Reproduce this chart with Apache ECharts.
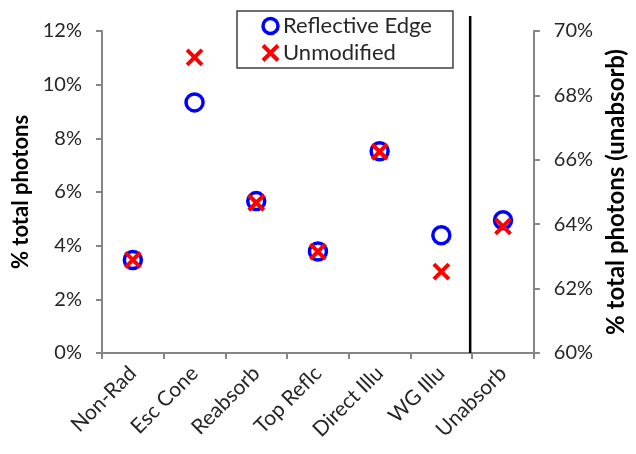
<!DOCTYPE html>
<html>
<head>
<meta charset="utf-8">
<script src="https://cdn.jsdelivr.net/npm/echarts@6/dist/echarts.min.js"></script>
<style>
  html, body { margin: 0; padding: 0; background: #fff; }
  #chart { width: 636px; height: 454px; }
</style>
</head>
<body>
<div id="chart"></div>
<script>
// Photon fate categories (last one is read on the right-hand axis)
const categories = ['Non-Rad', 'Esc Cone', 'Reabsorb', 'Top Reflc', 'Direct Illu', 'WG Illu', 'Unabsorb'];

// % of total photons, left axis
const reflectiveEdge = [3.47, 9.34, 5.66, 3.78, 7.52, 4.39];
const unmodified     = [3.47, 11.02, 5.6, 3.78, 7.5, 3.03];

// % of total photons that stay unabsorbed, right axis
const reflectiveEdgeUnabsorb = 64.12;
const unmodifiedUnabsorb     = 63.93;

// Axis ranges
const leftMin = 0, leftMax = 12, leftStep = 2;
const rightMin = 60, rightMax = 70, rightStep = 2;

const FONT = 'Lato';
const TEXT = '#262626';
const BLUE = '#0000ff';
const RED = '#ff0000';
const CROSS = 'path://M0,0L10,10M10,0L0,10';

function leftSeriesData(values) {
  return categories.map((c, i) => (i < values.length ? values[i] : null));
}
function rightSeriesData(value) {
  return categories.map((c, i) => (i === categories.length - 1 ? value : null));
}

const circleStyle = { color: '#fff', borderColor: BLUE, borderWidth: 3.5, opacity: 1 };
const crossStyle = { color: 'rgba(0,0,0,0)', borderColor: RED, borderWidth: 4, opacity: 1 };

const chart = echarts.init(document.getElementById('chart'), null, { renderer: 'canvas' });

const axisLine = { show: true, lineStyle: { color: '#868686', width: 2 } };
const axisTick = { show: true, length: 6, lineStyle: { color: '#868686', width: 2 } };

chart.setOption({
  animation: false,
  textStyle: { fontFamily: FONT },
  grid: { left: 102, right: 97, top: 31, bottom: 101 },
  legend: {
    orient: 'vertical',
    left: 237, top: 11,
    padding: [4, 21, 4, 24],
    itemGap: 5,
    itemWidth: 15, itemHeight: 15,
    borderColor: '#404040', borderWidth: 1.5,
    backgroundColor: '#fff',
    textStyle: { fontFamily: FONT, fontSize: 22, color: TEXT },
    data: [
      { name: 'Reflective Edge', icon: 'circle', itemStyle: { color: '#fff', borderColor: BLUE, borderWidth: 3.5 } },
      { name: 'Unmodified', icon: CROSS, itemStyle: { color: 'rgba(0,0,0,0)', borderColor: RED, borderWidth: 4 } }
    ]
  },
  xAxis: {
    type: 'category',
    data: categories,
    boundaryGap: true,
    axisLine: axisLine,
    axisTick: axisTick,
    axisLabel: { rotate: 45, fontFamily: FONT, fontSize: 21, color: TEXT, margin: 17, interval: 0 },
    splitLine: { show: false }
  },
  yAxis: [
    {
      type: 'value', min: leftMin, max: leftMax, interval: leftStep,
      name: '% total photons', nameLocation: 'middle', nameGap: 68, nameRotate: 90,
      nameTextStyle: { fontFamily: FONT, fontSize: 22, fontWeight: 'bold', color: '#000' },
      axisLine: axisLine, axisTick: axisTick, splitLine: { show: false },
      axisLabel: { formatter: v => v + '%', fontFamily: FONT, fontSize: 20, color: TEXT, margin: 20 }
    },
    {
      type: 'value', min: rightMin, max: rightMax, interval: rightStep, position: 'right',
      name: '% total photons (unabsorb)', nameLocation: 'middle', nameGap: 69, nameRotate: 90,
      nameTextStyle: { fontFamily: FONT, fontSize: 24, fontWeight: 'bold', color: '#000' },
      axisLine: axisLine, axisTick: axisTick, splitLine: { show: false },
      axisLabel: { formatter: v => v + '%', fontFamily: FONT, fontSize: 20, color: TEXT, margin: 20 }
    }
  ],
  series: [
    {
      name: 'Reflective Edge', type: 'scatter', yAxisIndex: 0,
      data: leftSeriesData(reflectiveEdge),
      symbol: 'circle', symbolSize: 17, itemStyle: circleStyle, z: 2
    },
    {
      name: 'Reflective Edge', type: 'scatter', yAxisIndex: 1,
      data: rightSeriesData(reflectiveEdgeUnabsorb),
      symbol: 'circle', symbolSize: 17, itemStyle: circleStyle, z: 2
    },
    {
      name: 'Unmodified', type: 'scatter', yAxisIndex: 0,
      data: leftSeriesData(unmodified),
      symbol: CROSS, symbolSize: 15, itemStyle: crossStyle, z: 3
    },
    {
      name: 'Unmodified', type: 'scatter', yAxisIndex: 1,
      data: rightSeriesData(unmodifiedUnabsorb),
      symbol: CROSS, symbolSize: 15, itemStyle: crossStyle, z: 3
    }
  ]
});

// Divider between the left-axis categories and the right-axis category,
// placed just left of the category boundary taken from the x axis itself.
function drawDivider() {
  const n = categories.length;
  const xA = chart.convertToPixel({ xAxisIndex: 0 }, categories[n - 2]);
  const xB = chart.convertToPixel({ xAxisIndex: 0 }, categories[n - 1]);
  const x = (xA + xB) / 2 - 2;
  const yBottom = chart.convertToPixel({ yAxisIndex: 0 }, leftMin);
  const yTop = chart.convertToPixel({ yAxisIndex: 0 }, leftMax);
  chart.setOption({
    graphic: [{
      type: 'line', z: 10,
      shape: { x1: x, y1: yTop - 15, x2: x, y2: yBottom },
      style: { stroke: '#000', lineWidth: 2.5 }
    }]
  });
}
drawDivider();
</script>
</body>
</html>
